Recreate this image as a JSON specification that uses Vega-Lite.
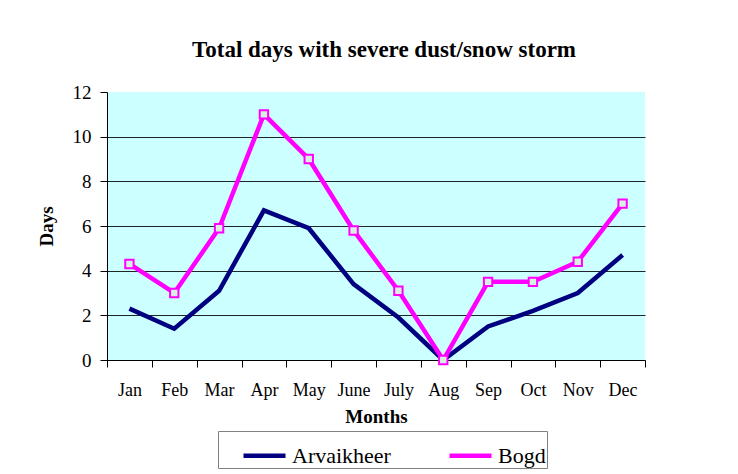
{
  "$schema": "https://vega.github.io/schema/vega-lite/v6.json",
  "autosize": "none",
  "width": 538,
  "height": 268,
  "padding": {"left": 107, "top": 92, "right": 93, "bottom": 114},
  "background": "white",
  "title": {
    "text": "Total days with severe dust/snow storm",
    "font": "Liberation Serif",
    "fontSize": 23,
    "fontWeight": "bold",
    "color": "black",
    "offset": 21,
    "dx": 8
  },
  "data": {
    "values": [
      {"month": "Jan", "station": "Arvaikheer", "days": 2.3},
      {"month": "Feb", "station": "Arvaikheer", "days": 1.4},
      {"month": "Mar", "station": "Arvaikheer", "days": 3.1},
      {"month": "Apr", "station": "Arvaikheer", "days": 6.7},
      {"month": "May", "station": "Arvaikheer", "days": 5.9},
      {"month": "June", "station": "Arvaikheer", "days": 3.4},
      {"month": "July", "station": "Arvaikheer", "days": 1.9},
      {"month": "Aug", "station": "Arvaikheer", "days": 0},
      {"month": "Sep", "station": "Arvaikheer", "days": 1.5},
      {"month": "Oct", "station": "Arvaikheer", "days": 2.2},
      {"month": "Nov", "station": "Arvaikheer", "days": 3.0},
      {"month": "Dec", "station": "Arvaikheer", "days": 4.7},
      {"month": "Jan", "station": "Bogd", "days": 4.3},
      {"month": "Feb", "station": "Bogd", "days": 3.0},
      {"month": "Mar", "station": "Bogd", "days": 5.9},
      {"month": "Apr", "station": "Bogd", "days": 11},
      {"month": "May", "station": "Bogd", "days": 9},
      {"month": "June", "station": "Bogd", "days": 5.8},
      {"month": "July", "station": "Bogd", "days": 3.1},
      {"month": "Aug", "station": "Bogd", "days": 0},
      {"month": "Sep", "station": "Bogd", "days": 3.5},
      {"month": "Oct", "station": "Bogd", "days": 3.5},
      {"month": "Nov", "station": "Bogd", "days": 4.4},
      {"month": "Dec", "station": "Bogd", "days": 7}
    ]
  },
  "encoding": {
    "x": {
      "field": "month",
      "type": "ordinal",
      "sort": ["Jan","Feb","Mar","Apr","May","June","July","Aug","Sep","Oct","Nov","Dec"],
      "scale": {"type": "band", "paddingInner": 0, "paddingOuter": 0},
      "axis": {
        "title": "Months",
        "titleFont": "Liberation Serif",
        "titleFontSize": 19,
        "titleFontWeight": "bold",
        "titleColor": "black",
        "titlePadding": 8,
        "labelFont": "Liberation Serif",
        "labelFontSize": 18,
        "labelColor": "black",
        "labelAngle": 0,
        "labelPadding": 14,
        "tickBand": "extent",
        "tickSize": 7,
        "tickColor": "black",
        "domainColor": "black",
        "grid": false
      }
    },
    "y": {
      "field": "days",
      "type": "quantitative",
      "scale": {"domain": [0, 12], "nice": false},
      "axis": {
        "title": "Days",
        "titleFont": "Liberation Serif",
        "titleFontSize": 19,
        "titleFontWeight": "bold",
        "titleColor": "black",
        "titlePadding": 16,
        "labelFont": "Liberation Serif",
        "labelFontSize": 19,
        "labelColor": "black",
        "labelPadding": 9,
        "values": [0, 2, 4, 6, 8, 10, 12],
        "tickSize": 7,
        "tickColor": "black",
        "domainColor": "black",
        "grid": true,
        "gridColor": {"condition": {"test": "datum.value == 12", "value": "transparent"}, "value": "black"},
        "gridOpacity": 0.85
      }
    }
  },
  "layer": [
    {
      "mark": {"type": "line", "strokeWidth": 4.5},
      "encoding": {
        "color": {
          "field": "station",
          "type": "nominal",
          "scale": {"domain": ["Arvaikheer", "Bogd"], "range": ["#000080", "#FF00FF"]},
          "legend": {
            "title": " ",
            "titleOrient": "left",
            "titleFontSize": 22,
            "titlePadding": 22,
            "orient": "none",
            "legendX": 111,
            "legendY": 339,
            "direction": "horizontal",
            "strokeColor": "#808080",
            "padding": 1,
            "symbolType": "stroke",
            "symbolSize": 1764,
            "symbolStrokeWidth": 4.5,
            "labelFont": "Liberation Serif",
            "labelFontSize": 22,
            "labelColor": "black",
            "labelOffset": 4,
            "columnPadding": 49
          }
        }
      }
    },
    {
      "transform": [{"filter": "datum.station == 'Bogd'"}],
      "mark": {"type": "point", "shape": "square", "filled": true, "fill": "#D8F0E0", "stroke": "#FF00FF", "strokeWidth": 2, "size": 70, "opacity": 1}
    }
  ],
  "config": {
    "view": {"fill": "#CCFFFF", "stroke": null}
  }
}
